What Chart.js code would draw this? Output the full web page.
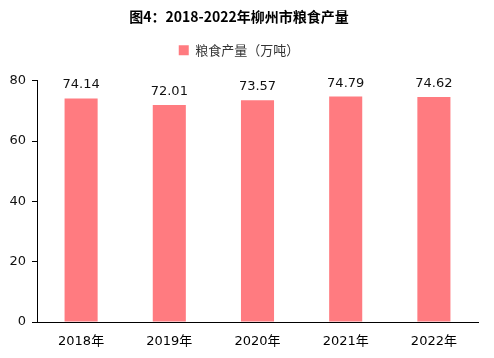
<!DOCTYPE html>
<html>
<head>
<meta charset="utf-8">
<script src="https://cdn.jsdelivr.net/npm/chart.js@4"></script>
<style>
  html, body { margin: 0; padding: 0; background: #fff; }
  #wrap { width: 494px; height: 358px; }
</style>
</head>
<body>
<div id="wrap"><canvas id="grainChart" width="494" height="358"></canvas></div>
<script>
const years = ["2018年", "2019年", "2020年", "2021年", "2022年"];
const grainOutput = [74.14, 72.01, 73.57, 74.79, 74.62];
const yTicks = [0, 20, 40, 60, 80];

const BAR_COLOR = "#ff7b80";
const NUM_FONT = "'DejaVu Sans', sans-serif";
const CJK_FONT = "'DejaVu Sans', 'Noto Sans CJK SC', sans-serif";

/* value labels above each bar */
const valueLabels = {
  id: "valueLabels",
  afterDatasetsDraw(chart) {
    const ctx = chart.ctx;
    const meta = chart.getDatasetMeta(0);
    ctx.save();
    ctx.font = "13px " + NUM_FONT;
    ctx.fillStyle = "#111";
    ctx.textAlign = "center";
    ctx.textBaseline = "alphabetic";
    meta.data.forEach((bar, i) => {
      ctx.fillText(grainOutput[i].toFixed(2), bar.x, bar.y - 10);
    });
    ctx.restore();
  }
};

// extra room under the legend, so the plot starts lower
const legendGap = {
  id: "legendGap",
  beforeLayout(chart) {
    const lg = chart.legend;
    if (lg && !lg._gapPatched) {
      const fit = lg.fit;
      lg.fit = function () { fit.call(this); this.height += 14; };
      lg._gapPatched = true;
    }
  }
};

new Chart(document.getElementById("grainChart"), {
  type: "bar",
  data: {
    labels: years,
    datasets: [{
      label: "粮食产量（万吨）",
      data: grainOutput,
      backgroundColor: BAR_COLOR,
      categoryPercentage: 1,
      barPercentage: 0.375
    }]
  },
  options: {
    responsive: false,
    animation: false,
    layout: { padding: { left: 0, right: 16, top: 4, bottom: 0 } },
    plugins: {
      title: {
        display: true,
        text: "图4：2018-2022年柳州市粮食产量",
        color: "#000",
        font: { family: "'Noto Sans CJK SC', sans-serif", size: 14, weight: "bold" },
        padding: { top: 4, bottom: 12 }
      },
      legend: {
        labels: {
          boxWidth: 10,
          boxHeight: 10,
          color: "#333",
          font: { family: "'Noto Sans CJK SC', sans-serif", size: 13 },
          padding: 7
        }
      },
      tooltip: { enabled: false }
    },
    scales: {
      x: {
        grid: { display: false },
        border: { display: true, color: "#000", width: 1 },
        ticks: { color: "#000", font: { family: CJK_FONT, size: 13 }, padding: 4 },
        afterFit: s => { s.height = 36; }
      },
      y: {
        min: 0,
        max: 80,
        afterBuildTicks: s => { s.ticks = yTicks.map(v => ({ value: v })); },
        grid: { drawOnChartArea: false, tickLength: 5, color: "#000" },
        border: { display: true, color: "#000", width: 1 },
        ticks: { color: "#111", font: { family: NUM_FONT, size: 13 }, padding: 6 },
        afterFit: s => { s.width = 37; }
      }
    }
  },
  plugins: [valueLabels, legendGap]
});
</script>
</body>
</html>
